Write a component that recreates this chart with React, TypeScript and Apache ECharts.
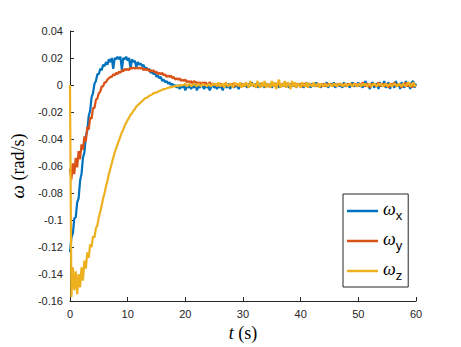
import React, { useEffect, useRef } from "react";
import * as echarts from "echarts";

const T_STEP = 0.25;
const SERIES_NAMES = ["ωx", "ωy", "ωz"];
const COLORS = ["#0072BD", "#D95319", "#EDB120"];
const X_TICKS = [0, 10, 20, 30, 40, 50, 60];
const Y_TICKS = [-0.16, -0.14, -0.12, -0.1, -0.08, -0.06, -0.04, -0.02, 0, 0.02, 0.04];

const OMEGA_X = [
  -0.124, -0.113, -0.110, -0.099, -0.098, -0.087, -0.084, -0.071, -0.066, -0.054, -0.050, -0.038, -0.034, -0.023, -0.019, -0.009, -0.006, 0.001, 0.003, 0.008,
  0.008, 0.012, 0.011, 0.015, 0.014, 0.017, 0.015, 0.019, 0.017, 0.020, 0.012, 0.020, 0.019, 0.021, 0.019, 0.021, 0.011, 0.020, 0.019, 0.021,
  0.018, 0.020, 0.012, 0.019, 0.017, 0.018, 0.013, 0.017, 0.015, 0.016, 0.014, 0.015, 0.012, 0.013, 0.011, 0.012, 0.009, 0.010, 0.008, 0.009,
  0.006, 0.007, 0.005, 0.006, 0.003, 0.004, 0.002, 0.003, 0.001, 0.002, 0.000, 0.001, -0.001, 0.000, -0.002, 0.000, -0.003, -0.001, -0.002, 0.000,
  -0.004, -0.001, -0.002, 0.000, -0.003, -0.001, -0.002, 0.001, -0.004, -0.001, -0.002, 0.000, -0.001, -0.003, 0.000, -0.002, -0.001, -0.004, -0.001, 0.000,
  -0.002, -0.001, -0.003, 0.000, -0.002, -0.001, -0.004, 0.000, -0.001, -0.002, 0.001, -0.003, -0.001, 0.000, -0.002, 0.001, -0.001, -0.003, 0.000, -0.001,
  0.001, -0.001, 0.000, -0.002, 0.001, -0.001, 0.002, 0.000, -0.001, 0.001, -0.002, 0.000, 0.001, -0.001, 0.000, -0.002, 0.001, 0.000, -0.001, 0.001,
  -0.002, 0.000, 0.001, -0.001, 0.000, -0.002, 0.001, -0.001, 0.000, 0.002, -0.001, 0.000, -0.002, 0.001, 0.000, -0.001, 0.001, -0.002, 0.000, 0.001,
  -0.001, 0.001, -0.002, 0.000, 0.002, -0.001, 0.000, -0.002, 0.001, 0.000, -0.001, 0.002, -0.001, 0.000, -0.002, 0.001, -0.001, 0.000, 0.002, -0.002,
  0.000, 0.001, -0.001, 0.002, -0.002, 0.000, 0.001, -0.001, 0.000, -0.002, 0.002, -0.001, 0.000, 0.001, -0.002, 0.000, 0.002, -0.001, 0.000, -0.001,
  0.002, -0.001, 0.000, -0.002, 0.001, 0.003, -0.001, 0.000, -0.003, 0.001, 0.002, -0.002, 0.000, 0.001, -0.003, 0.002, 0.000, -0.001, 0.003, -0.002,
  0.000, 0.002, -0.003, 0.001, 0.000, -0.002, 0.003, -0.001, 0.001, -0.003, 0.002, 0.000, -0.002, 0.003, -0.001, 0.001, -0.003, 0.002, 0.003, -0.002,
  0.001,
];

const OMEGA_Y = [
  -0.062, -0.070, -0.058, -0.066, -0.054, -0.061, -0.049, -0.055, -0.044, -0.048, -0.038, -0.042, -0.031, -0.033, -0.024, -0.025, -0.017, -0.017, -0.011, -0.010,
  -0.006, -0.005, -0.001, -0.001, 0.002, 0.002, 0.004, 0.005, 0.006, 0.006, 0.008, 0.007, 0.009, 0.008, 0.010, 0.009, 0.011, 0.010, 0.012, 0.011,
  0.012, 0.011, 0.013, 0.012, 0.013, 0.012, 0.013, 0.012, 0.013, 0.012, 0.013, 0.011, 0.012, 0.011, 0.012, 0.010, 0.011, 0.010, 0.011, 0.009,
  0.010, 0.008, 0.009, 0.008, 0.009, 0.007, 0.008, 0.006, 0.007, 0.006, 0.007, 0.005, 0.006, 0.004, 0.005, 0.004, 0.005, 0.003, 0.004, 0.003,
  0.004, 0.002, 0.003, 0.002, 0.003, 0.001, 0.003, 0.002, 0.002, 0.001, 0.002, 0.000, 0.002, 0.001, 0.002, 0.000, 0.001, 0.002, 0.000, 0.001,
  0.000, 0.001, -0.001, 0.001, 0.000, 0.001, -0.001, 0.000, 0.001, 0.000, -0.001, 0.001, 0.000, 0.001, -0.001, 0.000, 0.001, -0.001, 0.000, 0.001,
  0.000, -0.001, 0.001, 0.000, -0.001, 0.001, 0.000, 0.001, -0.001, 0.000, 0.001, -0.001, 0.000, 0.001, 0.000, -0.001, 0.001, 0.000, -0.001, 0.000,
  0.001, 0.000, -0.001, 0.001, 0.000, 0.001, -0.001, 0.000, 0.001, -0.001, 0.000, 0.001, 0.000, -0.001, 0.001, 0.000, -0.001, 0.001, 0.000, 0.000,
  0.001, -0.001, 0.000, 0.001, -0.001, 0.000, 0.001, 0.000, -0.001, 0.001, 0.000, -0.001, 0.001, 0.000, 0.000, -0.001, 0.001, 0.000, -0.001, 0.001,
  0.000, 0.001, -0.001, 0.000, 0.001, -0.001, 0.000, 0.001, 0.000, -0.001, 0.001, 0.000, -0.001, 0.001, 0.000, 0.001, -0.001, 0.000, 0.001, -0.001,
  0.000, 0.001, -0.001, 0.002, 0.000, -0.001, 0.001, 0.000, -0.002, 0.001, 0.000, 0.001, -0.001, 0.000, 0.002, -0.001, 0.000, 0.001, -0.001, 0.000,
  0.001, -0.002, 0.000, 0.001, -0.001, 0.002, 0.000, -0.001, 0.001, 0.000, -0.002, 0.001, 0.000, 0.002, -0.001, 0.000, 0.001, -0.002, 0.002, -0.001,
  0.000,
];

const OMEGA_Z = [
  0.000, -0.157, -0.135, -0.152, -0.138, -0.155, -0.140, -0.150, -0.135, -0.145, -0.130, -0.136, -0.124, -0.128, -0.118, -0.120, -0.112, -0.113, -0.106, -0.104,
  -0.098, -0.094, -0.089, -0.084, -0.080, -0.075, -0.071, -0.066, -0.062, -0.058, -0.054, -0.050, -0.047, -0.044, -0.041, -0.038, -0.035, -0.033, -0.030, -0.028,
  -0.026, -0.024, -0.022, -0.021, -0.019, -0.018, -0.016, -0.015, -0.014, -0.013, -0.012, -0.011, -0.010, -0.0095, -0.009, -0.008, -0.0075, -0.007, -0.006, -0.0058,
  -0.0055, -0.005, -0.0045, -0.004, -0.0035, -0.003, -0.003, -0.0025, -0.002, -0.002, -0.0015, -0.0015, -0.001, -0.001, -0.0005, -0.001, 0.000, -0.0005, 0.000, 0.000,
  0.001, -0.001, 0.000, 0.001, -0.001, 0.000, 0.001, 0.000, -0.001, 0.001, 0.000, -0.001, 0.001, 0.000, 0.000, -0.001, 0.001, 0.000, -0.001, 0.001,
  0.000, 0.001, -0.001, 0.002, -0.001, 0.000, 0.001, -0.002, 0.002, 0.000, -0.001, 0.001, 0.000, -0.002, 0.002, 0.000, 0.001, -0.001, 0.002, -0.002,
  0.001, -0.001, 0.002, 0.000, -0.002, 0.003, -0.001, 0.001, 0.000, -0.002, 0.003, 0.000, -0.002, 0.002, -0.001, 0.003, -0.002, 0.001, 0.000, -0.002,
  0.003, -0.001, 0.002, -0.003, 0.001, 0.004, -0.002, 0.001, -0.001, 0.003, -0.002, 0.002, 0.000, -0.003, 0.003, -0.001, 0.002, -0.002, 0.001, 0.000,
  -0.002, 0.002, 0.000, -0.001, 0.002, -0.002, 0.001, 0.000, -0.001, 0.002, -0.001, 0.000, 0.001, -0.002, 0.001, 0.000, -0.001, 0.001, 0.000, -0.001,
  0.001, 0.000, -0.001, 0.001, 0.000, -0.001, 0.001, 0.000, 0.001, -0.001, 0.000, 0.001, -0.001, 0.000, 0.001, 0.000, -0.001, 0.001, 0.000, -0.001,
  0.001, 0.000, -0.001, 0.001, 0.000, 0.001, -0.001, 0.000, 0.001, -0.001, 0.000, 0.001, 0.000, -0.001, 0.001, 0.000, 0.001, -0.001, 0.000, 0.001,
  -0.001, 0.000, 0.001, -0.001, 0.000, 0.001, 0.000, -0.001, 0.001, 0.000, -0.001, 0.001, 0.000, -0.001, 0.001, 0.002, -0.001, 0.000, 0.002, -0.001,
  0.000,
];

const SERIES_VALUES = [OMEGA_X, OMEGA_Y, OMEGA_Z];

const SANS = "'Liberation Sans', Arial, sans-serif";
const SERIF = "'Liberation Serif', 'DejaVu Serif', serif";

export default function App() {
  const ref = useRef<HTMLDivElement>(null);
  useEffect(() => {
    const chart = echarts.init(ref.current!, null, { renderer: "svg" });
    const axisColor = "#262626";
    chart.setOption({
      animation: false,
      backgroundColor: "#ffffff",
      grid: { left: 68, right: 45, top: 31, bottom: 46 },
      xAxis: {
        type: "value",
        min: X_TICKS[0],
        max: X_TICKS[X_TICKS.length - 1],
        interval: X_TICKS[1] - X_TICKS[0],
        splitLine: { show: false },
        axisLine: { show: true, onZero: false, lineStyle: { color: axisColor, width: 1 } },
        axisTick: { show: true, inside: true, length: 4, lineStyle: { color: axisColor } },
        axisLabel: { color: axisColor, fontFamily: SANS, fontSize: 11, margin: 7 },
        name: "{i|t} (s)",
        nameLocation: "middle",
        nameGap: 14,
        nameTextStyle: {
          fontFamily: SERIF,
          fontSize: 18,
          color: "#000",
          rich: { i: { fontFamily: SERIF, fontStyle: "italic", fontSize: 18, color: "#000" } },
        },
      },
      yAxis: {
        type: "value",
        min: Y_TICKS[0],
        max: Y_TICKS[Y_TICKS.length - 1],
        interval: 0.02,
        splitLine: { show: false },
        axisLine: { show: true, onZero: false, lineStyle: { color: axisColor, width: 1 } },
        axisTick: { show: true, inside: true, length: 4, lineStyle: { color: axisColor } },
        axisLabel: {
          color: axisColor,
          fontFamily: SANS,
          fontSize: 11,
          margin: 7,
          formatter: (v: number) => String(parseFloat(v.toFixed(2))),
        },
        name: "{w|ω} (rad/s)",
        nameLocation: "middle",
        nameGap: 38,
        nameTextStyle: {
          fontFamily: SERIF,
          fontSize: 18,
          color: "#000",
          rich: { w: { fontFamily: SERIF, fontStyle: "italic", fontSize: 19, color: "#000" } },
        },
      },
      legend: {
        left: 343,
        top: 194,
        orient: "vertical",
        data: SERIES_NAMES,
        icon: "rect",
        itemWidth: 31,
        itemHeight: 2.5,
        itemGap: 8,
        padding: [6, 6, 5, 4],
        backgroundColor: "#ffffff",
        borderColor: axisColor,
        borderWidth: 1,
        borderRadius: 0,
        formatter: (name: string) => `{w|ω}{s|${name.slice(1)}}`,
        textStyle: {
          padding: [0, 0, 0, 0],
          rich: {
            w: { fontFamily: SERIF, fontStyle: "italic", fontSize: 18, lineHeight: 22, verticalAlign: "top", color: "#000" },
            s: { fontFamily: SANS, fontSize: 13, lineHeight: 14, verticalAlign: "bottom", color: "#000" },
          },
        },
      },
      series: SERIES_VALUES.map((vals, k) => ({
        name: SERIES_NAMES[k],
        type: "line",
        data: vals.map((v, i) => [i * T_STEP, v]),
        showSymbol: false,
        symbol: "none",
        lineStyle: { color: COLORS[k], width: 2.2 },
        itemStyle: { color: COLORS[k] },
        z: 2 + k,
      })),
    });
    return () => chart.dispose();
  }, []);
  return (
    <div
      ref={ref}
      style={{ position: "absolute", left: 0, top: 0, width: 461, height: 347 }}
    />
  );
}
